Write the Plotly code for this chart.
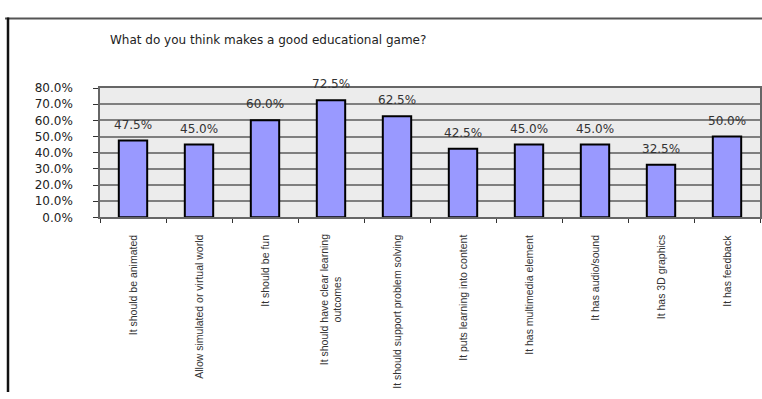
import plotly.graph_objects as go

W, H = 762, 399

categories = [
    "It should be animated",
    "Allow simulated or virtual world",
    "It should be fun",
    "It should have clear learning<br>outcomes",
    "It should support problem solving",
    "It puts learning into content",
    "It has multimedia element",
    "It has audio/sound",
    "It has 3D graphics",
    "It has feedback",
]
shares = [0.475, 0.450, 0.600, 0.725, 0.625, 0.425, 0.450, 0.450, 0.325, 0.500]
y_ticks = [0.0, 0.1, 0.2, 0.3, 0.4, 0.5, 0.6, 0.7, 0.8]

FONT = "Liberation Sans, Arial, sans-serif"
WIDE = "DejaVu Sans, Verdana, sans-serif"

# plot area in pixels
PX_L, PX_R, PX_T, PX_B = 100, 760, 84, 218


def px_x(px):
    return px / W


def px_y(py):
    return 1 - py / H


fig = go.Figure()
fig.add_trace(go.Bar(
    x=categories,
    y=shares,
    width=0.43,
    marker=dict(color="#9999ff", line=dict(color="#000000", width=2)),
    hoverinfo="skip",
))

# value labels above each bar
for c, v in zip(categories, shares):
    fig.add_annotation(
        x=c, y=v, xref="x", yref="y",
        text=f"{v * 100:.1f}%",
        showarrow=False, yshift=16,
        font=dict(family=WIDE, size=12, color="#333333"),
    )

# rotated category labels, lines centred on each other
for c in categories:
    fig.add_annotation(
        x=c, y=px_y(234), xref="x", yref="paper",
        text=c, textangle=-90, align="center",
        showarrow=False, xanchor="center", yanchor="top",
        font=dict(family=FONT, size=10.5, color="#333333"),
    )

# chart title
fig.add_annotation(
    x=px_x(268), y=px_y(34), xref="paper", yref="paper",
    text="What do you think makes a good educational game?",
    showarrow=False, xanchor="center", yanchor="middle",
    font=dict(family=WIDE, size=12, color="#222222"),
)

# chart-area frame (top and left edges)
fig.add_shape(type="line", xref="paper", yref="paper",
              x0=px_x(5), x1=1.0, y0=px_y(12), y1=px_y(12),
              line=dict(color="#555555", width=2))
fig.add_shape(type="line", xref="paper", yref="paper",
              x0=px_x(8), x1=px_x(8), y0=px_y(11), y1=0,
              line=dict(color="#111111", width=2.5))

fig.update_layout(
    width=W, height=H,
    margin=dict(l=0, r=0, t=0, b=0),
    paper_bgcolor="#ffffff",
    plot_bgcolor="#ececec",
    showlegend=False,
    font=dict(family=FONT, color="#222222"),
    xaxis=dict(
        domain=[px_x(PX_L), px_x(PX_R)],
        type="category",
        showticklabels=False,
        tickson="boundaries",
        ticks="outside", ticklen=4, tickcolor="#333333",
        showline=True, linecolor="#666666", linewidth=1.5, mirror=True,
        showgrid=False,
        fixedrange=True,
    ),
    yaxis=dict(
        domain=[px_y(PX_B), px_y(PX_T)],
        range=[0, 0.8],
        tickvals=y_ticks,
        tickformat=".1%",
        ticks="outside", ticklen=5, tickcolor="#333333",
        ticklabelstandoff=18,
        showline=True, linecolor="#666666", linewidth=1.5, mirror=True,
        showgrid=True, gridcolor="#7f7f7f", gridwidth=1.5,
        zeroline=False,
        tickfont=dict(family=WIDE, size=12, color="#222222"),
        fixedrange=True,
    ),
)

fig.write_html("out.html")
